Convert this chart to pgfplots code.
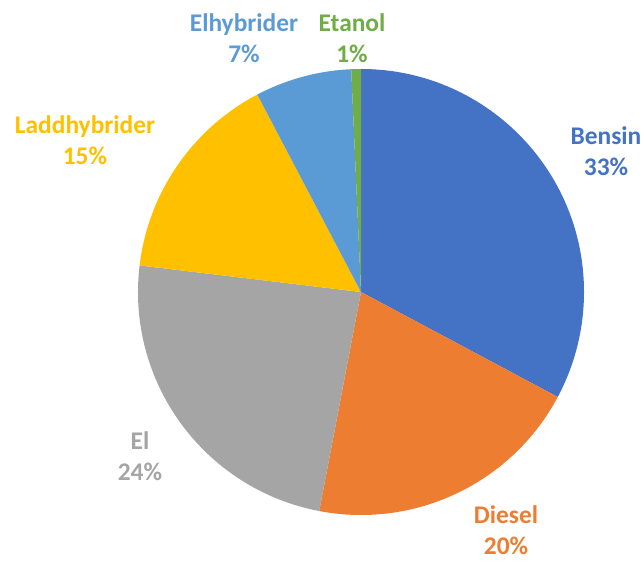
\documentclass[border=0pt]{standalone}
\usepackage{pgfplots}
\usepackage{pgfplotstable}
\pgfplotsset{compat=1.18}
\usepackage{fontspec}
\setmainfont{Carlito}
\definecolor{cBensin}{HTML}{4472C4}
\definecolor{cDiesel}{HTML}{ED7D31}
\definecolor{cEl}{HTML}{A5A5A5}
\definecolor{cLadd}{HTML}{FFC000}
\definecolor{cElh}{HTML}{5B9BD5}
\definecolor{cEtanol}{HTML}{70AD47}
\pgfplotstableread{
label value
Bensin 32.8
Diesel 20.2
El 23.9
Laddhybrider 15.4
Elhybrider 7.0
Etanol 0.7
}\piedata
\begin{document}
\begin{tikzpicture}
\pgfplotstablegetelem{0}{value}\of\piedata \let\vA\pgfplotsretval
\pgfplotstablegetelem{1}{value}\of\piedata \let\vB\pgfplotsretval
\pgfplotstablegetelem{2}{value}\of\piedata \let\vC\pgfplotsretval
\pgfplotstablegetelem{3}{value}\of\piedata \let\vD\pgfplotsretval
\pgfplotstablegetelem{4}{value}\of\piedata \let\vE\pgfplotsretval
\pgfplotstablegetelem{5}{value}\of\piedata \let\vF\pgfplotsretval
\pgfmathsetmacro\aA{90}
\pgfmathsetmacro\aB{\aA-3.6*\vA}
\pgfmathsetmacro\aC{\aB-3.6*\vB}
\pgfmathsetmacro\aD{\aC-3.6*\vC}
\pgfmathsetmacro\aE{\aD-3.6*\vD}
\pgfmathsetmacro\aF{\aE-3.6*\vE}
\pgfmathsetmacro\aG{\aF-3.6*\vF}
\begin{axis}[
  x=1bp, y=1bp,
  xmin=0, xmax=644, ymin=0, ymax=563,
  hide axis, clip=false,
  axis line style={draw=none},
]
\path (axis cs:0,0) rectangle (axis cs:644,563);
\def\cx{361}\def\cy{271}\def\R{223bp}
\fill[cBensin]  (axis cs:\cx,\cy) -- +(\aA:\R) arc[start angle=\aA, end angle=\aB, radius=\R] -- cycle;
\fill[cDiesel]  (axis cs:\cx,\cy) -- +(\aB:\R) arc[start angle=\aB, end angle=\aC, radius=\R] -- cycle;
\fill[cEl]      (axis cs:\cx,\cy) -- +(\aC:\R) arc[start angle=\aC, end angle=\aD, radius=\R] -- cycle;
\fill[cLadd]    (axis cs:\cx,\cy) -- +(\aD:\R) arc[start angle=\aD, end angle=\aE, radius=\R] -- cycle;
\fill[cElh]     (axis cs:\cx,\cy) -- +(\aE:\R) arc[start angle=\aE, end angle=\aF, radius=\R] -- cycle;
\fill[cEtanol]  (axis cs:\cx,\cy) -- +(\aF:\R) arc[start angle=\aF, end angle=\aG, radius=\R] -- cycle;
\tikzset{lbl/.style={font=\fontsize{25.5}{31}\selectfont\bfseries, align=center, inner sep=0pt}}
\node[lbl, text=cBensin] at (axis cs:606,412) {Bensin\\33\%};
\node[lbl, text=cDiesel] at (axis cs:506,33) {Diesel\\20\%};
\node[lbl, text=cEl] at (axis cs:140,107) {El\\24\%};
\node[lbl, text=cLadd] at (axis cs:85,423) {Laddhybrider\\15\%};
\node[lbl, text=cElh] at (axis cs:244,525) {Elhybrider\\7\%};
\node[lbl, text=cEtanol] at (axis cs:352,525) {Etanol\\1\%};
\end{axis}
\end{tikzpicture}
\end{document}
